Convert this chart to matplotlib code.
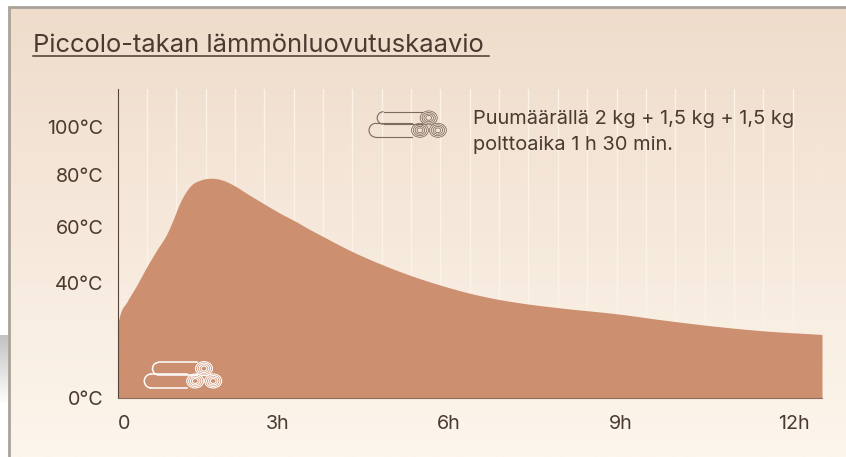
import numpy as np
import matplotlib
matplotlib.use("Agg")
import matplotlib.pyplot as plt
from matplotlib.patches import Arc, Ellipse

W, H = 846, 457
FONT = "Inter"
TEXT = "#4b3a2f"

# data
hours = [0, .04, .16, .33, .50, .67, .84, .95, 1.06, 1.15, 1.26, 1.40, 1.63, 1.80, 1.97,
         2.20, 2.48, 2.77, 3.05, 3.28, 3.50, 4.02, 4.50, 5.01, 5.49, 6.00, 6.40, 6.97,
         7.53, 8.55, 9.31, 9.99, 10.98, 12]
temps = [25.5, 29.0, 33.6, 39.5, 45.9, 51.8, 57.4, 62.8, 69.1, 73.0, 76.3, 78.1, 78.9, 78.1, 76.3,
         73.0, 69.1, 65.2, 61.8, 58.9, 56.5, 51.0, 46.7, 42.7, 39.5, 36.6, 34.8, 32.9,
         31.5, 29.3, 27.2, 25.5, 23.5, 22.2]
y_ticks = [0, 40, 60, 80, 100]
y_labels = ["0°C", "40°C", "60°C", "80°C", "100°C"]
x_ticks = [0.11, 2.73, 5.64, 8.57, 11.53]
x_labels = ["0", "3h", "6h", "9h", "12h"]
grid_hours = np.arange(0.5, 12.01, 0.5)

# the reference's temperature axis is not linear
scale_deg = [0, 40, 60, 80, 100, 116]
scale_px = [0, 114.5, 171.5, 222.5, 270.5, 309]
fwd = lambda v: np.interp(v, scale_deg, scale_px)
inv = lambda v: np.interp(v, scale_px, scale_deg)


def smooth(xs, ys, n=12):
    """Cubic Hermite drawing path through the read points."""
    xs, ys = np.asarray(xs, float), np.asarray(ys, float)
    m = np.gradient(ys, xs)
    out_x, out_y = [], []
    for i in range(len(xs) - 1):
        h = xs[i + 1] - xs[i]
        t = np.linspace(0, 1, n, endpoint=False)
        out_x.append(xs[i] + t * h)
        out_y.append((2*t**3 - 3*t**2 + 1) * ys[i] + (t**3 - 2*t**2 + t) * h * m[i]
                     + (-2*t**3 + 3*t**2) * ys[i + 1] + (t**3 - t**2) * h * m[i + 1])
    return np.r_[np.concatenate(out_x), xs[-1]], np.r_[np.concatenate(out_y), ys[-1]]


fig = plt.figure(figsize=(W / 100, H / 100), dpi=100, facecolor="white")

# page background
bg = fig.add_axes([0, 0, 1, 1], zorder=0)
bg.set_xlim(0, W); bg.set_ylim(H, 0); bg.axis("off")
stops = np.linspace(0, 1, 256)
c0, c1 = np.array([0xEF, 0xDC, 0xCB]), np.array([0xFD, 0xF6, 0xEC])
grad = (c0 + (c1 - c0) * stops[:, None])[:, None, :] / 255
bg.imshow(grad, extent=(9, W, H, 7), aspect="auto", zorder=1)
grey = np.linspace(0.76, 1, 128)[:, None]
bg.imshow(grey, extent=(0, 8, 405, 335), aspect="auto", cmap="gray", vmin=0, vmax=1, zorder=1)
bg.set_xlim(0, W); bg.set_ylim(H, 0)
bg.plot([W, 9, 9], [7, 7, H], color="#aaa299", lw=2, solid_joinstyle="miter", zorder=2)

# chart
ax = fig.add_axes([117.5 / W, (H - 398) / H, (822 - 117.5) / W, 309 / H], zorder=1)
ax.patch.set_visible(False)
ax.set_yscale("function", functions=(fwd, inv))
ax.set_xlim(0, 12); ax.set_ylim(0, 116)
for g in grid_hours:
    ax.axvline(g, color="#fbf3e8", lw=1, zorder=1)
sx, sy = smooth(hours, fwd(temps))
ax.fill_between(sx, inv(sy), 0, color="#ca8a6a", alpha=0.95, lw=0, zorder=2)
for s in ("top", "right"):
    ax.spines[s].set_visible(False)
ax.spines["left"].set_color("#55443a")
ax.spines["bottom"].set_color("#8b6b5b")
ax.set_xticks(x_ticks, x_labels)
ax.set_yticks(y_ticks, y_labels)
ax.minorticks_off()
ax.tick_params(length=0, colors=TEXT, labelsize=14.2, labelfontfamily=FONT)
ax.tick_params(axis="x", pad=12)
ax.tick_params(axis="y", pad=10)

# texts and icons
ov = fig.add_axes([0, 0, 1, 1], zorder=2)
ov.set_xlim(0, W); ov.set_ylim(H, 0); ov.axis("off")
ov.text(33, 46, "Piccolo-takan lämmönluovutuskaavio", fontsize=18.4, family=FONT,
        color=TEXT, va="center", ha="left")
ov.plot([33, 489], [56, 56], color=TEXT, lw=1.1)
ov.text(473, 118.5, "Puumäärällä 2 kg + 1,5 kg + 1,5 kg", fontsize=14.4, family=FONT,
        color=TEXT, va="center", ha="left")
ov.text(473, 145.5, "polttoaika 1 h 30 min.", fontsize=14.4, family=FONT,
        color=TEXT, va="center", ha="left")


def logs(dx, dy, col, lw):
    for cx, cy, r, end in ((383.5, 118, 6.3, 422), (376, 130.3, 7, 412)):
        ov.add_patch(Arc((cx + dx, cy + dy), 2 * r, 2 * r, theta1=90, theta2=270, color=col, lw=lw))
        ov.plot([cx + dx, end + dx], [cy - r + dy] * 2, color=col, lw=lw)
        ov.plot([cx + dx, end + dx], [cy + r + dy] * 2, color=col, lw=lw)
    for cx, cy in ((428.7, 117.9), (419.9, 130.3), (437.9, 130.3)):
        for f in (1.0, 0.78, 0.56, 0.34):
            ov.add_patch(Ellipse((cx + dx, cy + dy), 17 * f, 14 * f, fill=False, ec=col, lw=lw * 0.7))


logs(0, 0, "#7c6a5d", 0.8)
logs(-224.7, 250.7, "#ffffff", 1.1)

fig.savefig("out.png", dpi=100)
